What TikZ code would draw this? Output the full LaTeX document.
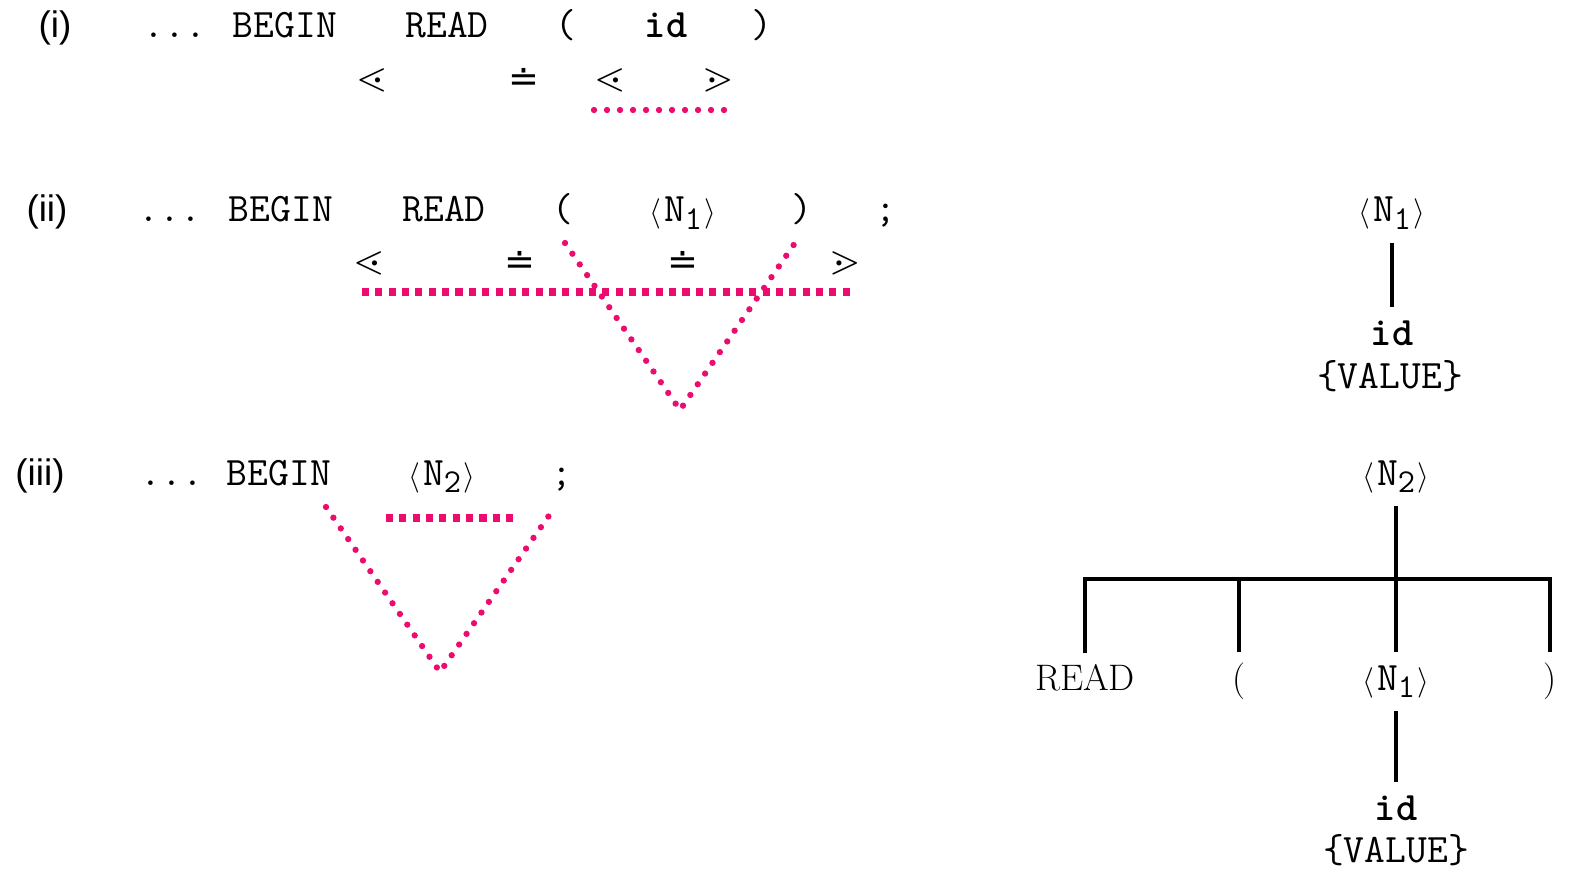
\documentclass[tikz,border=0pt]{standalone}
\usepackage{amsmath,amssymb}
\usepackage{fontspec}
\newfontfamily\labelfont{Liberation Sans}
\newfontfamily\relfont{DejaVu Sans}
\definecolor{hotpink}{RGB}{236,12,112}
\newcommand{\nterm}[1]{{\fontsize{19}{20}\selectfont$\langle$}\kern1.5pt\texttt{N}\raisebox{-.45ex}{\fontsize{19}{20}\selectfont\texttt{#1}}\kern1.5pt{\fontsize{19}{20}\selectfont$\rangle$}}
\newcommand{\eqdot}{{\relfont\fontsize{21}{25}\selectfont ≐}}

\begin{document}
\begin{tikzpicture}[x=0.02cm,y=-0.02cm,line width=.35pt,
  ttword/.style={font=\fontsize{23}{27}\selectfont\ttfamily,anchor=base,inner sep=1pt},
  treeword/.style={ttword,inner sep=7.5pt},
  rmword/.style={font=\fontsize{21}{25}\selectfont\rmfamily,anchor=base,inner sep=6pt},
  rowlabel/.style={font=\fontsize{21}{25}\selectfont\labelfont,anchor=base,inner sep=1pt},
  relsym/.style={font=\fontsize{23}{27}\selectfont,inner sep=0pt},
  treeline/.style={line width=2.2pt},
  dotline/.style={hotpink,line width=3.6pt,line cap=round,dash pattern=on 0pt off 7.4pt},
  sqline/.style={hotpink,line width=4pt,dash pattern=on 4pt off 3.6pt}]
\useasboundingbox (0,0) rectangle (1571,871);
% (i)
\node[rowlabel] (lab1) at (55,38) {(i)};
\node[ttword] (dots1) at (175,38) {...};
\node[ttword] (begin1) at (285,38) {BEGIN};
\node[ttword] (read1) at (447,38) {READ};
\node[ttword] (open1) at (566,38) {(};
\node[ttword] (id1) at (666,38) {\bfseries id};
\node[ttword] (close1) at (762,38) {)};
\node[relsym] (rel1a) at (372,80) {$\lessdot$};
\node[relsym] (rel1b) at (524,80) {\eqdot};
\node[relsym] (rel1c) at (610,80) {$\lessdot$};
\node[relsym] (rel1d) at (718,80) {$\gtrdot$};
\coordinate (u1a) at (594,110);
\coordinate (u1b) at (726,110);
\draw[dotline] (u1a)--(u1b);
% (ii)
\node[rowlabel] (lab2) at (47,222) {(ii)};
\node[ttword] (dots2) at (170,222) {...};
\node[ttword] (begin2) at (281,222) {BEGIN};
\node[ttword] (read2) at (444,222) {READ};
\node[ttword] (open2) at (563,222) {(};
\node[ttword] (nt2) at (683,222) {\nterm{1}};
\node[ttword] (close2) at (802,222) {)};
\node[ttword] (semi2) at (886,222) {;};
\node[relsym] (rel2a) at (369,263) {$\lessdot$};
\node[relsym] (rel2b) at (520,263) {\eqdot};
\node[relsym] (rel2c) at (683,263) {\eqdot};
\node[relsym] (rel2d) at (845,263) {$\gtrdot$};
\coordinate (u2a) at (362,292);
\coordinate (u2b) at (852,292);
\coordinate (v2l) at (565,243);
\coordinate (v2b) at (680,410);
\coordinate (v2r) at (795,243);
\draw[sqline] (u2a)--(u2b);
\draw[dotline] (v2l)--(v2b)--(v2r);
% (iii)
\node[rowlabel] (lab3) at (40,485) {(iii)};
\node[ttword] (dots3) at (172,485) {...};
\node[ttword] (begin3) at (279,485) {BEGIN};
\node[ttword] (nt3) at (442,485) {\nterm{2}};
\node[ttword] (semi3) at (562,485) {;};
\coordinate (u3a) at (386,518);
\coordinate (u3b) at (519,518);
\coordinate (v3l) at (326,507);
\coordinate (v3b) at (440,672);
\coordinate (v3r) at (555,507);
\draw[sqline] (u3a)--(u3b);
\draw[dotline] (v3l)--(v3b)--(v3r);
% tree for N1
\node[treeword] (ta) at (1392,222) {\nterm{1}};
\node[treeword] (taid) at (1392,345) {\bfseries id};
\node[ttword] (taval) at (1390,388) {\{VALUE\}};
\draw[treeline] (ta)--(taid);
% tree for N2
\node[treeword] (tb) at (1396,485) {\nterm{2}};
\coordinate (bar) at (1396,579);
\node[rmword] (tbread) at (1085,690) {READ};
\node[rmword] (tbopen) at (1239,690) {(};
\node[treeword] (tbnt) at (1396,690) {\nterm{1}};
\node[rmword] (tbclose) at (1550,690) {)};
\node[treeword] (tbid) at (1396,820) {\bfseries id};
\node[ttword] (tbval) at (1396,862) {\{VALUE\}};
\draw[treeline] (tbread.north) |- (bar) -| (tbclose.north);
\draw[treeline] (tbopen.north) -- (tbopen.north |- bar);
\draw[treeline] (tb) -- (bar) -- (tbnt);
\draw[treeline] (tbnt) -- (tbid);
\end{tikzpicture}
\end{document}
